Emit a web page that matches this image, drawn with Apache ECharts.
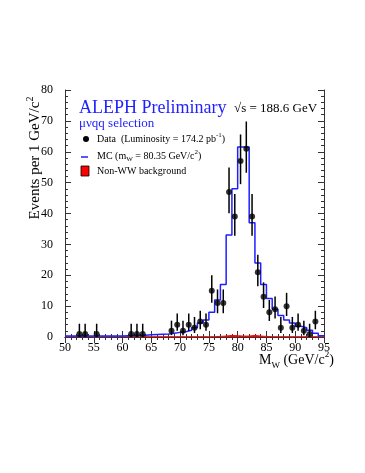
<!DOCTYPE html>
<html>
<head>
<meta charset="utf-8">
<script src="https://cdn.jsdelivr.net/npm/echarts@6/dist/echarts.min.js"></script>
<style>
html, body { margin: 0; padding: 0; background: #fff; }
#chart { width: 365px; height: 473px; }
</style>
</head>
<body>
<div id="chart"></div>
<script>
// bin low edges, 1 GeV/c^2 wide
var binEdges = [50, 51, 52, 53, 54, 55, 56, 57, 58, 59, 60, 61, 62, 63, 64, 65, 66, 67, 68, 69,
    70, 71, 72, 73, 74, 75, 76, 77, 78, 79, 80, 81, 82, 83, 84, 85, 86, 87, 88, 89,
    90, 91, 92, 93, 94];
// MC prediction per bin
var mcValues = [0.3, 0.3, 0.3, 0.3, 0.3, 0.3, 0.3, 0.3, 0.3, 0.3, 0.4, 0.5, 0.5, 0.6, 0.7, 0.8, 0.9, 1.0, 1.2, 1.5,
    1.7, 2.2, 3, 4.5, 5.5, 8, 12, 17, 33, 48, 61.5, 61.5, 37, 24, 17, 12.5, 9, 7, 5.5, 4.5,
    3.5, 3, 2.2, 1.2, 0.4];
// non-WW background per bin
var bgValues = [0.1, 0.1, 0.1, 0.1, 0.1, 0.1, 0.1, 0.1, 0.1, 0.1, 0.1, 0.1, 0.1, 0.1, 0.1, 0.1, 0.1, 0.1, 0.1, 0.1,
    0.1, 0.1, 0.1, 0.1, 0.1, 0.1, 0.2, 0.3, 0.5, 0.4, 0.3, 0.3, 0.5, 0.3, 0.2, 0.1, 0.1, 0.1, 0.1, 0.1,
    0.1, 0.1, 0.1, 0.1, 0.1];
// data points
var dataMass = [52.5, 53.5, 55.5, 61.5, 62.5, 63.5, 68.5, 69.5, 70.5, 71.5, 72.5, 73.5, 74.5, 75.5, 76.5, 77.5,
    78.5, 79.5, 80.5, 81.5, 82.5, 83.5, 84.5, 85.5, 86.5, 87.5, 88.5, 89.5, 90.5, 91.5, 92.5, 93.5];
var dataEvents = [1, 1, 1, 1, 1, 1, 2, 4, 2, 4, 3, 5, 4, 15, 11, 11,
    47, 39, 57, 61, 39, 21, 13, 8, 9, 3, 10, 3, 4, 2, 1, 5];
var errLow = [1, 1, 1, 1, 1, 1, 1.4, 2, 1.4, 2, 1.7, 2.5, 2, 3.9, 3.3, 3.3,
    6.9, 6.2, 7.5, 7.8, 6.2, 4.6, 3.6, 2.8, 3, 1.7, 3.2, 1.7, 2, 1.4, 1, 2.5];
var errHigh = [3.3, 3.3, 3.3, 3.3, 3.3, 3.3, 3.3, 3.6, 3.3, 3.6, 3.5, 3.5, 3.6, 5, 4.4, 4.4,
    7.9, 7.3, 8.6, 8.8, 7.3, 5.6, 4.7, 4, 4.1, 3.5, 4.3, 3.5, 3.6, 3.3, 3.3, 3.5];

var serif = 'Liberation Serif';
var blue = '#1f1fff';

// step line points: value holds from edge to next edge
function stepData(vals) {
    var pts = binEdges.map(function (e, i) { return [e, vals[i]]; });
    pts.push([95, vals[vals.length - 1]]);
    return pts;
}

var chart = echarts.init(document.getElementById('chart'));

var axisCommon = {
    type: 'value',
    axisLine: { show: true, lineStyle: { color: '#333', width: 1 } },
    axisTick: { show: true, inside: true, length: 6, lineStyle: { color: '#333' } },
    minorTick: { show: true, splitNumber: 5, length: 3, lineStyle: { color: '#333' } },
    splitLine: { show: false }
};

var option = {
    animation: false,
    grid: { left: 65, right: 41, top: 90, bottom: 136 },
    xAxis: [
        Object.assign({}, axisCommon, {
            min: 50, max: 95, interval: 5,
            axisLabel: { color: '#000', fontFamily: serif, fontSize: 12, margin: 5 }
        }),
        Object.assign({}, axisCommon, {
            position: 'top', min: 50, max: 95, interval: 5,
            axisLabel: { show: false }
        })
    ],
    yAxis: [
        Object.assign({}, axisCommon, {
            min: 0, max: 80, interval: 10,
            axisLabel: { color: '#000', fontFamily: serif, fontSize: 12, margin: 12 }
        }),
        Object.assign({}, axisCommon, {
            position: 'right', min: 0, max: 80, interval: 10,
            axisLabel: { show: false }
        })
    ],
    series: [
        {
            name: 'Non-WW background',
            type: 'line',
            step: 'end',
            data: stepData(bgValues),
            symbol: 'none',
            lineStyle: { color: '#ff0000', width: 1 },
            areaStyle: { color: '#ff0000', opacity: 1 },
            z: 2
        },
        {
            name: 'MC',
            type: 'line',
            step: 'end',
            data: stepData(mcValues),
            symbol: 'none',
            lineStyle: { color: blue, width: 1.5 },
            z: 3
        },
        {
            name: 'errors',
            type: 'custom',
            data: dataMass.map(function (m, i) { return [m, dataEvents[i], errLow[i], errHigh[i]]; }),
            renderItem: function (params, api) {
                var x = api.value(0), y = api.value(1);
                var p1 = api.coord([x, Math.max(0, y - api.value(2))]);
                var p2 = api.coord([x, y + api.value(3)]);
                return {
                    type: 'line',
                    shape: { x1: p1[0], y1: p1[1], x2: p2[0], y2: p2[1] },
                    style: { stroke: '#000', lineWidth: 1.5 }
                };
            },
            z: 4
        },
        {
            name: 'Data',
            type: 'scatter',
            data: dataMass.map(function (m, i) { return [m, dataEvents[i]]; }),
            symbol: 'circle',
            symbolSize: 6,
            itemStyle: { color: '#000' },
            z: 5
        }
    ],
    graphic: [
        {
            type: 'text', left: 79, top: 99,
            style: { text: 'ALEPH Preliminary', fill: blue, font: '18px "Liberation Serif"' }
        },
        {
            type: 'text', left: 79, top: 117,
            style: { text: 'μνqq selection', fill: blue, font: '13px "Liberation Serif"' }
        },
        {
            type: 'text', left: 234, top: 102,
            style: { text: '√s = 188.6 GeV', fill: '#000', font: '13px "Liberation Serif"' }
        },
        { type: 'circle', shape: { cx: 86, cy: 139, r: 3 }, style: { fill: '#000' } },
        {
            type: 'text', left: 97, top: 132,
            style: {
                text: '{a|Data  (Luminosity = 174.2 pb}{s|-1}{a|)}',
                rich: {
                    a: { fontFamily: serif, fontSize: 10, fill: '#000', lineHeight: 14 },
                    s: { fontFamily: serif, fontSize: 7, fill: '#000', verticalAlign: 'top', lineHeight: 14 }
                }
            }
        },
        { type: 'line', shape: { x1: 81, y1: 157, x2: 88, y2: 157 }, style: { stroke: blue, lineWidth: 1.5 } },
        {
            type: 'text', left: 97, top: 149,
            style: {
                text: '{a|MC (m}{b|W}{a| = 80.35 GeV/c}{s|2}{a|)}',
                rich: {
                    a: { fontFamily: serif, fontSize: 10, fill: '#000', lineHeight: 14 },
                    b: { fontFamily: serif, fontSize: 7, fill: '#000', verticalAlign: 'bottom', lineHeight: 14 },
                    s: { fontFamily: serif, fontSize: 7, fill: '#000', verticalAlign: 'top', lineHeight: 14 }
                }
            }
        },
        { type: 'rect', shape: { x: 81, y: 166, width: 8, height: 10 }, style: { fill: '#ff0000', stroke: '#000', lineWidth: 0.8 } },
        {
            type: 'text', left: 97, top: 166,
            style: { text: 'Non-WW background', fill: '#000', font: '10px "Liberation Serif"' }
        },
        {
            type: 'text', left: 259, top: 350,
            style: {
                text: '{a|M}{b|W}{a| (GeV/c}{s|2}{a|)}',
                rich: {
                    a: { fontFamily: serif, fontSize: 14, fill: '#000', lineHeight: 20 },
                    b: { fontFamily: serif, fontSize: 9, fill: '#000', verticalAlign: 'bottom', lineHeight: 20 },
                    s: { fontFamily: serif, fontSize: 9, fill: '#000', verticalAlign: 'top', lineHeight: 20 }
                }
            }
        },
        {
            type: 'text', x: 35, y: 158, rotation: Math.PI / 2,
            style: {
                text: '{a|Events per 1 GeV/c}{s|2}',
                align: 'center', verticalAlign: 'middle',
                rich: {
                    a: { fontFamily: serif, fontSize: 15, fill: '#000', lineHeight: 20 },
                    s: { fontFamily: serif, fontSize: 10, fill: '#000', verticalAlign: 'top', lineHeight: 20 }
                }
            }
        }
    ]
};

chart.setOption(option);
</script>
</body>
</html>
